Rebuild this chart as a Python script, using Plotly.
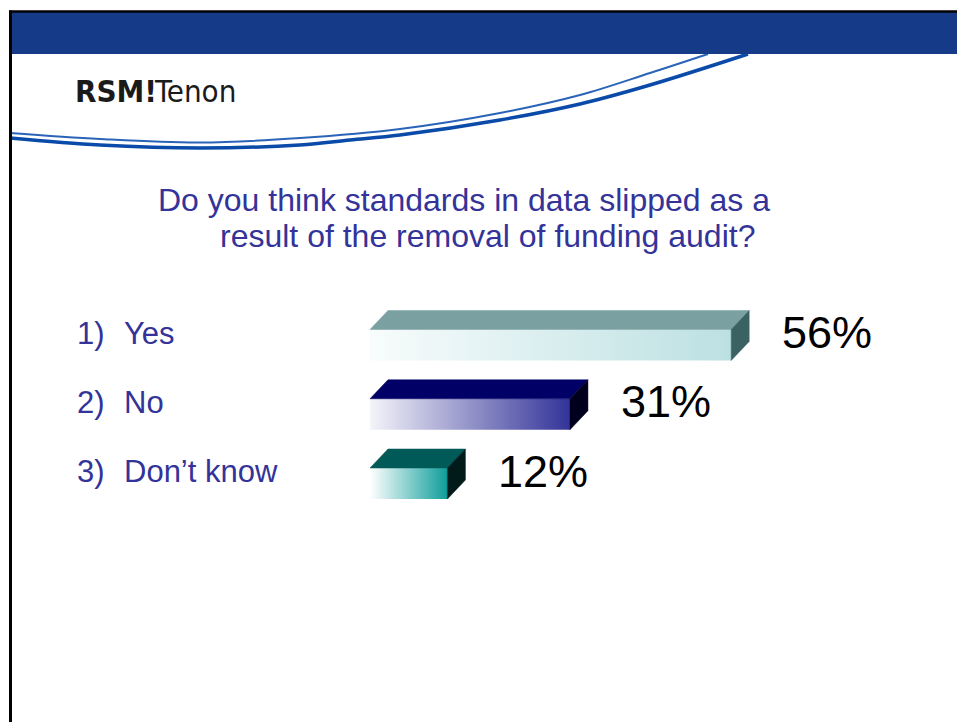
import plotly.graph_objects as go

# ---------------- data ----------------
numbers = ["1)", "2)", "3)"]
answers = ["Yes", "No", "Don’t know"]
percent = [56, 31, 12]
pct_labels = ["56%", "31%", "12%"]
title_lines = ["Do you think standards in data slipped as a",
               "result of the removal of funding audit?"]
logo_bold = "RSM!"
logo_rest = "Tenon"

# ---------------- style ----------------
front_start = ["#F8FCFC", "#F4F4FA", "#FFFFFF"]
front_end = ["#BCE0E2", "#333399", "#0E9E9A"]
top_colors = ["#7AA0A1", "#000066", "#005A58"]
side_colors = ["#3B6263", "#00001E", "#001B1A"]
TEXT_BLUE = "#333399"
BAND = "#153A88"

W, H = 957, 722
X0 = 370        # pixel position of value 0
PXU = 6.45      # pixels per percent point
Y0 = 345        # pixel centre of first bar front face
ROW = 69.25     # pixels between rows
HALF = 15.5 / ROW
DX = 18 / PXU
DY = 19 / ROW

fig = go.Figure()

# decorative curves (page pixel axes x2/y2)
curve_upper_x = [10, 100, 200, 300, 400, 500, 580, 650, 708]
curve_upper_y = [133, 139, 142.5, 138, 129, 113, 95, 73, 54]
curve_lower_x = [10, 100, 200, 300, 350, 400, 500, 580, 650, 748]
curve_lower_y = [138, 145, 148, 145, 140, 135, 120, 104, 85, 54]
fig.add_trace(go.Scatter(x=curve_upper_x, y=curve_upper_y, mode="lines",
                         line=dict(color="#2A64B8", width=2, shape="spline"),
                         xaxis="x2", yaxis="y2", hoverinfo="skip", showlegend=False))
fig.add_trace(go.Scatter(x=curve_lower_x, y=curve_lower_y, mode="lines",
                         line=dict(color="#0A4AA8", width=3.5, shape="spline"),
                         xaxis="x2", yaxis="y2", hoverinfo="skip", showlegend=False))

# 3D bars
for i, v in enumerate(percent):
    # front face with horizontal gradient
    fig.add_trace(go.Scatter(
        x=[0, v, v, 0, 0],
        y=[i - HALF, i - HALF, i + HALF, i + HALF, i - HALF],
        mode="lines", fill="toself",
        fillgradient=dict(type="horizontal",
                          colorscale=[[0, front_start[i]], [1, front_end[i]]]),
        line=dict(width=0), hoverinfo="skip", showlegend=False))
    # top face
    fig.add_trace(go.Scatter(
        x=[0, v, v + DX, DX, 0],
        y=[i - HALF, i - HALF, i - HALF - DY, i - HALF - DY, i - HALF],
        mode="lines", fill="toself", fillcolor=top_colors[i],
        line=dict(width=0.5, color=top_colors[i]), hoverinfo="skip", showlegend=False))
    # side face
    fig.add_trace(go.Scatter(
        x=[v, v + DX, v + DX, v, v],
        y=[i - HALF, i - HALF - DY, i + HALF - DY, i + HALF, i - HALF],
        mode="lines", fill="toself", fillcolor=side_colors[i],
        line=dict(width=0.5, color=side_colors[i]), hoverinfo="skip", showlegend=False))

SANS = "Liberation Sans, Arial, sans-serif"
annotations = []
for i, v in enumerate(percent):
    annotations.append(dict(x=v, y=i - DY / 2 - 3 / ROW, xref="x", yref="y", text=pct_labels[i],
                            xanchor="left", yanchor="middle", xshift=DX * PXU + 31,
                            showarrow=False,
                            font=dict(family=SANS, size=45, color="black")))
    annotations.append(dict(x=75 / W, y=i - 12 / ROW, xref="paper", yref="y", text=numbers[i],
                            xanchor="left", yanchor="middle", showarrow=False,
                            font=dict(family=SANS, size=31, color=TEXT_BLUE)))
    annotations.append(dict(x=122 / W, y=i - 12 / ROW, xref="paper", yref="y", text=answers[i],
                            xanchor="left", yanchor="middle", showarrow=False,
                            font=dict(family=SANS, size=31, color=TEXT_BLUE)))

title_x = [156, 218]
title_y = [200, 236]
for t, tx, ty in zip(title_lines, title_x, title_y):
    annotations.append(dict(x=tx / W, y=1 - ty / H, xref="paper", yref="paper", text=t,
                            xanchor="left", yanchor="middle", showarrow=False,
                            font=dict(family=SANS, size=32, color=TEXT_BLUE)))

LOGO = "DejaVu Sans Condensed, Liberation Sans Narrow, sans-serif"
annotations.append(dict(x=73 / W, y=1 - 91 / H, xref="paper", yref="paper", text="<b>" + logo_bold + "</b>",
                        xanchor="left", yanchor="middle", showarrow=False,
                        font=dict(family=LOGO, size=31, color="#1a1a1a")))
annotations.append(dict(x=152 / W, y=1 - 91 / H, xref="paper", yref="paper", text=logo_rest,
                        xanchor="left", yanchor="middle", showarrow=False,
                        font=dict(family=LOGO, size=31, color="#1a1a1a")))

shapes = [
    dict(type="rect", xref="x2", yref="y2", x0=11, x1=W, y0=12, y1=54,
         fillcolor=BAND, line=dict(width=0), layer="above"),
    dict(type="line", xref="x2", yref="y2", x0=9, x1=W, y0=11.5, y1=11.5,
         line=dict(color="black", width=2.5), layer="above"),
    dict(type="line", xref="x2", yref="y2", x0=10.5, x1=10.5, y0=10.5, y1=H,
         line=dict(color="black", width=3), layer="above"),
]

fig.update_layout(
    width=W, height=H,
    margin=dict(l=0, r=0, t=0, b=0),
    paper_bgcolor="white", plot_bgcolor="rgba(0,0,0,0)",
    showlegend=False,
    xaxis=dict(domain=[0, 1], range=[-X0 / PXU, (W - X0) / PXU], visible=False, fixedrange=True),
    yaxis=dict(domain=[0, 1], range=[(H - Y0) / ROW, -Y0 / ROW], visible=False, fixedrange=True),
    xaxis2=dict(domain=[0, 1], range=[0, W], visible=False, anchor="y2", fixedrange=True),
    yaxis2=dict(domain=[0, 1], range=[H, 0], visible=False, anchor="x2", fixedrange=True),
    annotations=annotations,
    shapes=shapes,
)

fig.write_html("out.html", config={"displayModeBar": False},
               post_script="document.body.style.margin='0px';document.body.style.padding='0px';")
